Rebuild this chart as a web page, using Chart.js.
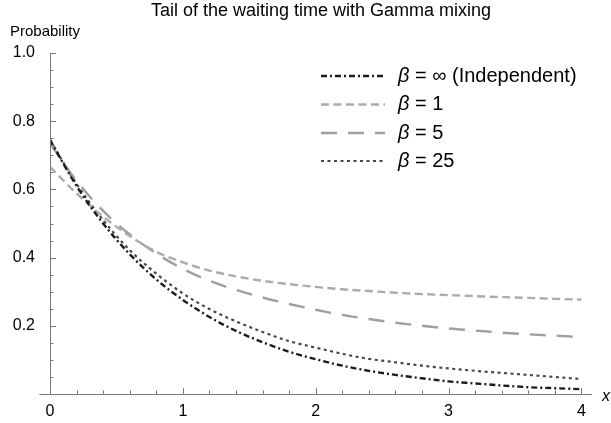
<!DOCTYPE html>
<html lang="en">
<head>
<meta charset="UTF-8">
<title>Tail of the waiting time with Gamma mixing</title>
<script src="https://cdn.jsdelivr.net/npm/chart.js"></script>
<style>
    html, body{ margin:0; padding:0; background:#fff; }
    #tailChart{ display:block; }
</style>
</head>
<body>
<canvas id="tailChart" width="611" height="423"></canvas>
<script>
// values
const xValues = [0, 0.2, 0.4, 0.6, 0.8, 1, 1.2, 1.4, 1.6, 1.8, 2, 2.2, 2.4, 2.6, 2.8, 3, 3.2, 3.4, 3.6, 3.8, 4];
const indep  = [0.745, 0.61, 0.50, 0.41, 0.336, 0.276, 0.226, 0.185, 0.152, 0.124, 0.102, 0.083, 0.068, 0.056, 0.046, 0.037, 0.031, 0.025, 0.020, 0.017, 0.014];
const beta1  = [0.666, 0.588, 0.52, 0.463, 0.417, 0.386, 0.362, 0.345, 0.332, 0.322, 0.314, 0.307, 0.302, 0.297, 0.293, 0.29, 0.287, 0.284, 0.282, 0.279, 0.277];
const beta5  = [0.735, 0.625, 0.537, 0.468, 0.412, 0.367, 0.332, 0.305, 0.283, 0.264, 0.247, 0.232, 0.22, 0.209, 0.2, 0.192, 0.186, 0.18, 0.175, 0.171, 0.167];
const beta25 = [0.745, 0.616, 0.51, 0.422, 0.353, 0.295, 0.249, 0.213, 0.182, 0.155, 0.136, 0.118, 0.103, 0.093, 0.083, 0.075, 0.068, 0.062, 0.056, 0.05, 0.044];
const legendNames = ["β = ∞ (Independent)", "β = 1", "β = 5", "β = 25"];
const xTickLabels = [0, 1, 2, 3, 4];
const yTickLabels = [0.2, 0.4, 0.6, 0.8, 1.0];

const FONT = "'Liberation Sans', Arial, sans-serif";
const AXIS = "#7a7a7a";

function pts(arr){ return xValues.map((x, i) => ({x: x, y: arr[i]})); }

// axes with inward ticks, axis labels and the legend inside the plot
const extras = {
    id: "extras",
    afterDraw(chart){
        const ctx = chart.ctx;
        const xs = chart.scales.x, ys = chart.scales.y;
        const x0 = xs.getPixelForValue(0), y0 = ys.getPixelForValue(0);
        ctx.save();
        ctx.strokeStyle = AXIS;
        ctx.lineWidth = 1;
        ctx.setLineDash([]);
        ctx.beginPath();
        ctx.moveTo(xs.getPixelForValue(-0.08), y0 + 0.5);
        ctx.lineTo(chart.chartArea.right, y0 + 0.5);
        ctx.moveTo(x0 + 0.5, y0);
        ctx.lineTo(x0 + 0.5, ys.getPixelForValue(1));
        // x ticks every 0.2
        for(let i = 1; i <= 20; i++){
            const px = Math.round(xs.getPixelForValue(i * 0.2)) + 0.5;
            const len = i % 5 === 0 ? 6 : 3.5;
            ctx.moveTo(px, y0);
            ctx.lineTo(px, y0 - len);
        }
        // y ticks every 0.05
        for(let i = 1; i <= 20; i++){
            const py = Math.round(ys.getPixelForValue(i * 0.05)) + 0.5;
            const len = i % 4 === 0 ? 6 : 3.5;
            ctx.moveTo(x0, py);
            ctx.lineTo(x0 + len, py);
        }
        ctx.stroke();

        ctx.fillStyle = "#000";
        ctx.font = "15px " + FONT;
        ctx.textBaseline = "middle";
        ctx.textAlign = "left";
        ctx.fillText("Probability", 10, 32);
        ctx.font = "italic 16px " + FONT;
        ctx.fillText("x", 602, y0 + 3);

        // legend
        const rowsY = [76, 104.5, 133, 161];
        chart.data.datasets.forEach((ds, i) => {
            const yy = rowsY[i];
            ctx.strokeStyle = ds.borderColor;
            ctx.lineWidth = ds.borderWidth;
            ctx.setLineDash(ds.borderDash);
            ctx.beginPath();
            ctx.moveTo(321, yy);
            ctx.lineTo(385, yy);
            ctx.stroke();
            ctx.setLineDash([]);
            const name = legendNames[i];
            ctx.fillStyle = "#000";
            ctx.font = "italic 20px " + FONT;
            ctx.fillText(name.charAt(0), 398, yy);
            const w = ctx.measureText(name.charAt(0)).width;
            ctx.font = "20px " + FONT;
            ctx.fillText(name.slice(1), 398 + w, yy);
        });
        ctx.restore();
    }
};

const ctx = document.getElementById("tailChart").getContext("2d");
new Chart(ctx, {
    type: "line",
    data: {
        datasets: [
            { label: legendNames[0], data: pts(indep), borderColor: "#1c1c1c", borderWidth: 2.4, borderDash: [6, 3, 2, 3] },
            { label: legendNames[1], data: pts(beta1), borderColor: "#ababab", borderWidth: 2.4, borderDash: [8, 4.5] },
            { label: legendNames[2], data: pts(beta5), borderColor: "#9f9f9f", borderWidth: 2.4, borderDash: [16, 11] },
            { label: legendNames[3], data: pts(beta25), borderColor: "#474747", borderWidth: 2.2, borderDash: [3, 3.5] }
        ]
    },
    options: {
        responsive: false,
        animation: false,
        devicePixelRatio: 1,
        layout: { padding: { left: 0, right: 19, top: 0, bottom: 0 } },
        elements: {
            point: { radius: 0 },
            line: { cubicInterpolationMode: "monotone", fill: false, borderCapStyle: "butt" }
        },
        plugins: {
            legend: { display: false },
            tooltip: { enabled: false },
            title: {
                display: true,
                fullSize: false,
                text: "Tail of the waiting time with Gamma mixing",
                color: "#000",
                font: { family: FONT, size: 18, weight: "normal" },
                padding: { top: 0, bottom: 31.4 }
            }
        },
        scales: {
            x: {
                type: "linear",
                min: 0,
                max: 4.08,
                afterFit: s => { s.height = 29; },
                grid: { display: false },
                border: { display: false },
                ticks: {
                    stepSize: 1,
                    includeBounds: false,
                    padding: 0,
                    color: "#000",
                    font: { family: FONT, size: 16 },
                    callback: v => xTickLabels.includes(v) ? String(v) : ""
                }
            },
            y: {
                type: "linear",
                min: 0,
                max: 1,
                afterFit: s => { s.width = 50; },
                grid: { display: false },
                border: { display: false },
                ticks: {
                    stepSize: 0.2,
                    padding: 7,
                    color: "#000",
                    font: { family: FONT, size: 16 },
                    callback: v => {
                        const t = yTickLabels.find(k => Math.abs(k - v) < 1e-6);
                        return t === undefined ? "" : t.toFixed(1);
                    }
                }
            }
        }
    },
    plugins: [extras]
});
</script>
</body>
</html>
